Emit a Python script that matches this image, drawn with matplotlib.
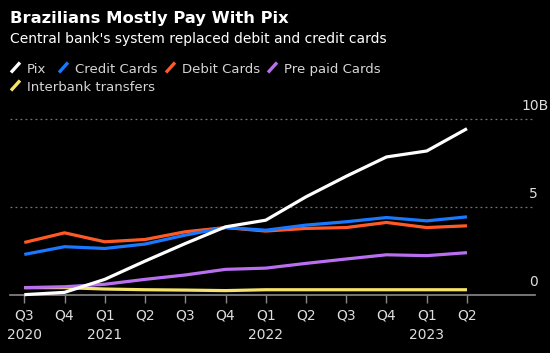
import matplotlib
matplotlib.use("Agg")
import matplotlib.pyplot as plt
from matplotlib.lines import Line2D
import matplotlib.transforms as mtransforms

quarters = ["Q3\n2020", "Q4", "Q1\n2021", "Q2", "Q3", "Q4", "Q1\n2022", "Q2", "Q3", "Q4", "Q1\n2023", "Q2"]
pix = [0.02, 0.15, 0.89, 1.93, 2.93, 3.88, 4.26, 5.59, 6.76, 7.86, 8.2, 9.47]
credit = [2.31, 2.75, 2.65, 2.9, 3.41, 3.84, 3.69, 3.98, 4.17, 4.41, 4.22, 4.45]
debit = [2.99, 3.54, 3.03, 3.16, 3.6, 3.84, 3.64, 3.79, 3.84, 4.13, 3.84, 3.94]
prepaid = [0.42, 0.47, 0.61, 0.89, 1.14, 1.46, 1.53, 1.8, 2.05, 2.29, 2.24, 2.41]
interbank = [0.42, 0.42, 0.34, 0.3, 0.28, 0.25, 0.3, 0.3, 0.3, 0.3, 0.3, 0.3]
series_names = ["Pix", "Credit Cards", "Debit Cards", "Pre paid Cards", "Interbank transfers"]
yticks = [0, 5, 10]
ytick_labels = ["0", "5", "10B"]

colors = ["#ffffff", "#1a78ff", "#ff5a26", "#b96ff0", "#f6e36b"]
series = [pix, credit, debit, prepaid, interbank]

W, H = 550, 353
fig = plt.figure(figsize=(W / 100, H / 100), dpi=100, facecolor="black")
ax = fig.add_axes([10 / W, 1 - 295 / H, 525 / W, (295 - 101.8) / H], facecolor="black")

x = list(range(len(quarters)))
order = [4, 3, 2, 1, 0]
for i in order:
    ax.plot(x, series[i], color=colors[i], lw=2.3, solid_capstyle="butt", zorder=3 + (4 - i), clip_on=False)

ax.set_xlim(-0.355, 12.69)
ax.set_ylim(0, 11)

for sp in ["top", "right", "left"]:
    ax.spines[sp].set_visible(False)
ax.spines["bottom"].set_color("#8a8a8a")
ax.spines["bottom"].set_linewidth(1.2)

for g in yticks[1:]:
    ax.axhline(g, color="#777777", lw=0.9, ls=(0, (1.5, 2.5)), zorder=1)

ax.set_xticks(x)
ax.set_xticklabels(quarters, color="#dedede", fontsize=10, linespacing=1.45)
ax.tick_params(axis="x", length=6, width=1, color="#8a8a8a", pad=4)

ax.yaxis.tick_right()
ax.set_yticks(yticks)
ax.set_yticklabels(ytick_labels, color="#dedede", fontsize=10)
ax.tick_params(axis="y", length=0, pad=0)
for lab in ax.get_yticklabels():
    lab.set_horizontalalignment("right")
    lab.set_verticalalignment("bottom")
    dx = 10 / 72 if lab.get_text() == "10B" else 2 / 72
    lab.set_transform(lab.get_transform() + mtransforms.ScaledTranslation(dx, 4.5 / 72, fig.dpi_scale_trans))

fig.text(10 / W, 1 - 23 / H, "Brazilians Mostly Pay With Pix", color="white", fontsize=11.8,
         fontweight="bold", ha="left", va="baseline")
fig.text(10 / W, 1 - 43 / H, "Central bank's system replaced debit and credit cards", color="white",
         fontsize=10, ha="left", va="baseline")

leg_pos = [(10, 73), (58, 73), (165, 73), (267, 73), (10, 91)]
for (lx, ly), name, c in zip(leg_pos, series_names, colors):
    fig.add_artist(Line2D([(lx + 1) / W, (lx + 10) / W], [1 - (ly - 0.5) / H, 1 - (ly - 10.5) / H],
                          color=c, lw=2.4, transform=fig.transFigure, solid_capstyle="butt"))
    fig.text((lx + 17) / W, 1 - ly / H, name, color="#d6d6d6", fontsize=9.5, ha="left", va="baseline")

fig.savefig("out.png", dpi=100, facecolor="black")
